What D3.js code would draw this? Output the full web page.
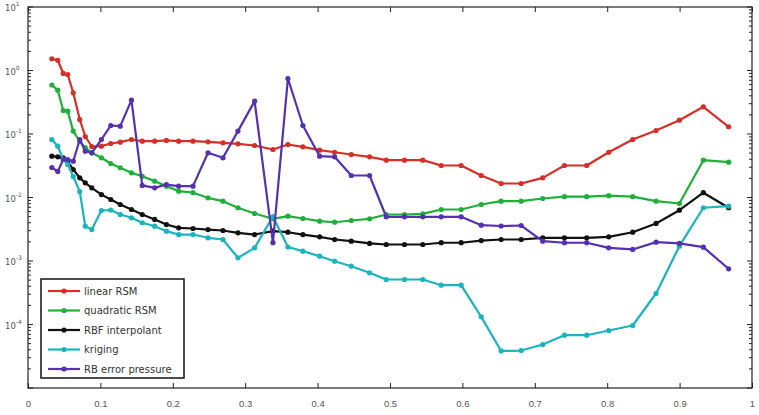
<!DOCTYPE html>
<html>
<head>
<meta charset="utf-8">
<script src="https://cdn.jsdelivr.net/npm/d3@7"></script>
<style>
body { margin: 0; background: #fff; }
</style>
</head>
<body>
<div id="chart"></div>
<script>
// sample positions (shared by all series)
var xs = [0.0329, 0.0411, 0.0487, 0.0549, 0.0625, 0.0715, 0.0791, 0.0881, 0.1014, 0.1143,
          0.1274, 0.1429, 0.1578, 0.175, 0.1912, 0.2081, 0.2279, 0.2486, 0.2693, 0.29,
          0.313, 0.3383, 0.359, 0.3797, 0.4028, 0.4235, 0.4465, 0.4718, 0.4948, 0.52,
          0.5453, 0.5707, 0.5983, 0.626, 0.6535, 0.6812, 0.711, 0.7409, 0.7717, 0.8021,
          0.8352, 0.8675, 0.8997, 0.9328, 0.9677];

var linearRSM = [1.53, 1.45, 0.898, 0.865, 0.446, 0.169, 0.0914, 0.0635, 0.0643, 0.0708,
                 0.0743, 0.0819, 0.0771, 0.0771, 0.0791, 0.0771, 0.0771, 0.0754, 0.0727, 0.0701,
                 0.0659, 0.057, 0.0683, 0.0628, 0.0556, 0.0516, 0.0475, 0.0437, 0.0387, 0.0387,
                 0.0387, 0.0319, 0.0319, 0.0222, 0.0166, 0.0166, 0.0204, 0.0319, 0.0319, 0.0516,
                 0.0819, 0.1135, 0.165, 0.268, 0.130];

var quadraticRSM = [0.591, 0.490, 0.234, 0.229, 0.111, 0.0762, 0.0612, 0.0506, 0.0422, 0.0343,
                    0.0294, 0.0245, 0.0216, 0.0181, 0.0151, 0.0126, 0.0119, 0.00989, 0.00875, 0.00689,
                    0.0056, 0.00462, 0.00508, 0.00467, 0.00424, 0.00408, 0.00434, 0.00462, 0.0054, 0.0054,
                    0.00553, 0.00647, 0.00647, 0.00776, 0.00875, 0.00875, 0.00964, 0.0103, 0.0103, 0.0107,
                    0.0103, 0.00875, 0.00805, 0.0387, 0.036];

var rbfInterp = [0.0447, 0.0437, 0.0422, 0.0369, 0.0276, 0.0204, 0.0170, 0.0142, 0.0111, 0.0093,
                 0.00776, 0.00647, 0.0054, 0.00451, 0.00376, 0.00333, 0.00325, 0.00313, 0.00302, 0.00278,
                 0.00261, 0.00295, 0.00284, 0.00261, 0.0024, 0.00218, 0.00205, 0.00189, 0.00182, 0.00182,
                 0.00182, 0.00194, 0.00194, 0.0021, 0.00218, 0.00218, 0.00232, 0.00232, 0.00232, 0.0024,
                 0.00284, 0.0039, 0.00631, 0.0119, 0.00689];

var kriging = [0.0819, 0.0643, 0.0397, 0.0331, 0.0214, 0.0124, 0.00353, 0.00313, 0.00624, 0.00635,
               0.0054, 0.00479, 0.004, 0.00353, 0.00295, 0.00261, 0.00261, 0.00232, 0.00218, 0.00112,
               0.00161, 0.00502, 0.00166, 0.00143, 0.00119, 0.000993, 0.000828, 0.000652, 0.000511, 0.000511,
               0.000511, 0.000416, 0.000416, 0.000132, 0.0000383, 0.0000389, 0.0000484, 0.0000678, 0.0000678, 0.0000805,
               0.0000964, 0.000308, 0.00171, 0.00689, 0.0073];

var rbPressure = [0.0297, 0.0257, 0.0397, 0.0397, 0.0373, 0.0819, 0.0536, 0.0506, 0.0819, 0.136,
                  0.133, 0.341, 0.0155, 0.0142, 0.016, 0.0151, 0.0151, 0.0506, 0.0422, 0.111,
                  0.329, 0.00194, 0.748, 0.136, 0.0447, 0.0437, 0.0222, 0.0222, 0.00497, 0.00497,
                  0.00497, 0.00497, 0.00497, 0.00366, 0.00356, 0.00362, 0.00205, 0.00194, 0.00194, 0.00161,
                  0.00152, 0.00198, 0.00189, 0.00165, 0.000754];

var seriesNames = ["linear RSM", "quadratic RSM", "RBF interpolant", "kriging", "RB error pressure"];
var seriesColors = ["#d62f27", "#1fb03a", "#111111", "#1ab4bf", "#5530b0"];
var seriesValues = [linearRSM, quadraticRSM, rbfInterp, kriging, rbPressure];

var xTicks = [0, 0.1, 0.2, 0.3, 0.4, 0.5, 0.6, 0.7, 0.8, 0.9, 1];
var xTickLabels = ["0", "0.1", "0.2", "0.3", "0.4", "0.5", "0.6", "0.7", "0.8", "0.9", "1"];
var yDecades = [1e-5, 1e-4, 1e-3, 1e-2, 1e-1, 1, 10];
var yLabelDecades = [1e-4, 1e-3, 1e-2, 1e-1, 1, 10];   // bottom decade is left unlabelled

var width = 759, height = 415;
var margin = {top: 7, right: 7, bottom: 27, left: 28};
var innerwidth = width - margin.left - margin.right,
    innerheight = height - margin.top - margin.bottom;

var svg = d3.select("#chart").append("svg")
    .attr("width", width)
    .attr("height", height)
    .style("font-family", "DejaVu Sans, sans-serif");

var g = svg.append("g")
    .attr("transform", "translate(" + margin.left + "," + margin.top + ")");

var x_scale = d3.scaleLinear().domain([0, 1]).range([0, innerwidth]);
var y_scale = d3.scaleLog().domain([1e-5, 10]).range([innerheight, 0]);

// x axis, ticks pointing inward, bottom and top
var x_axis = d3.axisBottom(x_scale)
    .tickValues(xTicks)
    .tickFormat(function(d, i) { return xTickLabels[i]; })
    .tickSizeInner(-5)
    .tickSizeOuter(0)
    .tickPadding(10);

var gx = g.append("g")
    .attr("transform", "translate(0," + innerheight + ")")
    .call(x_axis);
gx.select(".domain").remove();
gx.selectAll("line").attr("stroke", "#222");
gx.selectAll("text").attr("fill", "#555").style("font-size", "9.5px").attr("dy", "0.9em");

var gxTop = g.append("g")
    .call(d3.axisTop(x_scale).tickValues(xTicks).tickSizeInner(-5).tickSizeOuter(0).tickFormat(""));
gxTop.select(".domain").remove();
gxTop.selectAll("line").attr("stroke", "#222");

// y ticks: decades long, minor short, both sides
var yAll = y_scale.ticks();
[0, innerwidth].forEach(function(xp, side) {
    var dir = side == 0 ? 1 : -1;
    g.append("g").selectAll("line")
        .data(yAll)
        .enter().append("line")
        .attr("x1", xp)
        .attr("x2", function(d) {
            var major = yDecades.indexOf(d) > -1;
            return xp + dir * (major ? 5 : 3);
        })
        .attr("y1", function(d) { return y_scale(d); })
        .attr("y2", function(d) { return y_scale(d); })
        .attr("stroke", "#222")
        .attr("stroke-width", 1);
});

var ylab = g.append("g").selectAll("text")
    .data(yLabelDecades)
    .enter().append("text")
    .attr("x", -23)
    .attr("y", function(d) { return y_scale(d) + 4; })
    .attr("fill", "#555")
    .style("font-size", "8.5px");
ylab.append("tspan").text("10");
ylab.append("tspan")
    .attr("dy", -5)
    .style("font-size", "6px")
    .text(function(d) { return Math.round(Math.log10(d)); });

// box
g.append("rect")
    .attr("x", 0).attr("y", 0)
    .attr("width", innerwidth).attr("height", innerheight)
    .attr("fill", "none")
    .attr("stroke", "#222")
    .attr("stroke-width", 1.2);

var draw_line = d3.line()
    .x(function(d) { return x_scale(d[0]); })
    .y(function(d) { return y_scale(d[1]); });

seriesValues.forEach(function(vals, i) {
    var pts = d3.zip(xs, vals);
    var sg = g.append("g").attr("class", "series");
    sg.append("path")
        .attr("d", draw_line(pts))
        .attr("fill", "none")
        .attr("stroke", seriesColors[i])
        .attr("stroke-width", 2.2)
        .attr("stroke-linejoin", "round");
    sg.selectAll("circle")
        .data(pts)
        .enter().append("circle")
        .attr("cx", function(d) { return x_scale(d[0]); })
        .attr("cy", function(d) { return y_scale(d[1]); })
        .attr("r", 2.6)
        .attr("fill", seriesColors[i]);
});

// legend
var legend = svg.append("g").attr("transform", "translate(41,279)");
legend.append("rect")
    .attr("width", 143).attr("height", 99)
    .attr("fill", "#fff")
    .attr("stroke", "#111")
    .attr("stroke-width", 1.5);
var items = legend.selectAll(".item")
    .data(seriesNames)
    .enter().append("g")
    .attr("class", "item")
    .attr("transform", function(d, i) { return "translate(0," + (12 + i * 19.5) + ")"; });
items.append("line")
    .attr("x1", 7).attr("x2", 39)
    .attr("stroke", function(d, i) { return seriesColors[i]; })
    .attr("stroke-width", 2.2);
items.append("circle")
    .attr("cx", 23).attr("r", 2.6)
    .attr("fill", function(d, i) { return seriesColors[i]; });
items.append("text")
    .attr("x", 43)
    .attr("dy", "0.35em")
    .attr("fill", "#333")
    .style("font-size", "10px")
    .text(function(d) { return d; });
</script>
</body>
</html>
